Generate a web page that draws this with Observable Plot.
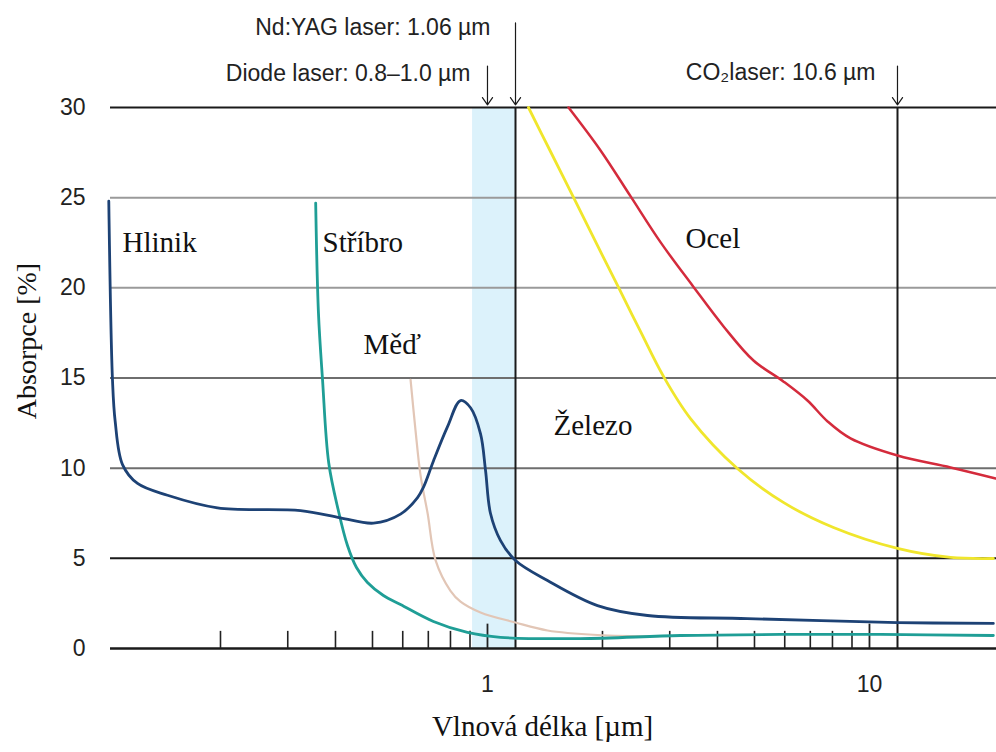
<!DOCTYPE html>
<html>
<head>
<meta charset="utf-8">
<script src="https://cdn.jsdelivr.net/npm/d3@7"></script>
<script src="https://cdn.jsdelivr.net/npm/@observablehq/plot@0.6"></script>
<style>
  html, body { margin: 0; padding: 0; background: #fff; }
  #chart svg { display: block; }
</style>
</head>
<body>
<div id="chart"></div>
<script>
// ---- data ----
const yTicks = [0, 5, 10, 15, 20, 25, 30];
const xLabels = [1, 10];
const minorTicks = [0.2, 0.3, 0.4, 0.5, 0.6, 0.7, 0.8, 0.9, 2, 3, 4, 5, 6, 7, 8, 9];
const majorTicks = [1, 10];

const hlinik = [
  [0.102, 24.8], [0.1043, 14.9], [0.106, 12.6], [0.1108, 10.2], [0.1213, 9.15],
  [0.1453, 8.5], [0.1965, 7.8], [0.324, 7.65], [0.412, 7.25], [0.503, 6.95],
  [0.592, 7.45], [0.656, 8.37], [0.68, 8.95], [0.722, 10.4], [0.786, 12.3],
  [0.85, 13.75], [0.903, 13.35], [0.959, 11.9], [0.988, 9.9], [1.018, 7.5],
  [1.081, 6.0], [1.184, 4.88], [1.436, 3.77], [1.941, 2.38], [2.624, 1.83],
  [4.79, 1.66], [11.84, 1.44], [21.1, 1.39]
];
const stribro = [
  [0.355, 24.7], [0.361, 18.6], [0.37, 14.9], [0.384, 10.3], [0.407, 7.65],
  [0.430, 5.71], [0.454, 4.49], [0.485, 3.66], [0.534, 2.94], [0.592, 2.44],
  [0.722, 1.50], [0.886, 0.89], [1.081, 0.62], [1.75, 0.55], [3.2, 0.72],
  [5.85, 0.78], [10.7, 0.78], [21.1, 0.72]
];
const med = [
  [0.629, 14.9], [0.648, 12.1], [0.668, 9.6], [0.697, 7.5], [0.731, 4.9],
  [0.8, 3.2], [0.85, 2.6], [0.959, 2.0], [1.184, 1.44], [1.436, 1.0],
  [1.941, 0.75], [2.8, 0.68]
];
const zelezo = [
  [1.28, 30.0], [1.462, 27.56], [1.70, 24.79], [1.94, 22.35], [2.19, 20.13],
  [2.515, 17.58], [2.89, 15.08], [3.40, 12.75], [4.51, 9.98], [5.95, 8.10],
  [8.05, 6.71], [11.84, 5.55], [16.3, 5.05], [21.1, 4.99]
];
const ocel = [
  [1.63, 30.0], [1.977, 27.62], [2.37, 25.07], [2.84, 22.52], [3.44, 20.13],
  [4.15, 17.86], [4.97, 15.97], [5.95, 14.81], [6.88, 13.75], [7.77, 12.59],
  [8.92, 11.65], [11.84, 10.70], [16.3, 10.04], [21.4, 9.43]
];

// curve labels: [text, x, y]
const curveLabels = [
  ["Hlinik", 0.1108, 22.48],
  ["Stříbro", 0.370, 22.48],
  ["Měď", 0.4736, 16.87],
  ["Železo", 1.489, 12.33],
  ["Ocel", 3.30, 22.75]
];

// laser annotations (positions as drawn in the picture)
const diodeBand = [0.914, 1.184];
const ndYagX = 1.184;
const co2X = 11.84;
const diodeX = 1.0;
const arrows = [
  {x: ndYagX, from: 34.7},
  {x: diodeX, from: 32.3},
  {x: co2X, from: 32.3}
];
const ndLabel = {text: "Nd:YAG laser: 1.06 µm", x: ndYagX, y: 34.45};
const diodeLabel = {text: "Diode laser: 0.8–1.0 µm", x: diodeX, y: 31.9};
const co2Label = {text: "CO\u2082laser: 10.6 µm", x: co2X, y: 31.95};

const gridColor = v => (v === 0 || v === 5 || v === 30) ? "#1a1a1a" : (v === 25 || v === 20) ? "#9a9a9a" : "#6e6e6e";

const sans = "Liberation Sans, Arial, sans-serif";
const serif = "Liberation Serif, Times New Roman, serif";

const toObj = arr => arr.map(([x, y]) => ({x, y}));
const labelOpts = {x: "x", y: "y", text: "text", textAnchor: "end", fontSize: 23, fontFamily: sans, fill: "#222"};
const curve = "catmull-rom";

const chart = Plot.plot({
  width: 996,
  height: 752,
  marginLeft: 110,
  marginRight: 0,
  marginTop: 107,
  marginBottom: 104,
  x: {type: "log", domain: [0.10306, 21.505], axis: null},
  y: {domain: [0, 30], axis: null},
  marks: [
    Plot.rect([diodeBand], {x1: d => d[0], x2: d => d[1], y1: 0, y2: 30, fill: "#dcf2fb"}),
    Plot.ruleY(yTicks, {y: d => d, stroke: d => gridColor(d), strokeWidth: d => d === 0 ? 2.5 : 2}),
    Plot.ruleX([ndYagX, co2X], {x: d => d, y1: 0, y2: 30, stroke: "#1a1a1a", strokeWidth: 2}),
    Plot.arrow(arrows, {x1: "x", x2: "x", y1: "from", y2: 30.15, stroke: "#1a1a1a", strokeWidth: 1.2, headLength: 11, headAngle: 70}),
    Plot.ruleX(minorTicks, {x: d => d, y1: 0, y2: 0.95, stroke: "#222", strokeWidth: 1.6}),
    Plot.ruleX(majorTicks, {x: d => d, y1: 0, y2: 1.35, stroke: "#222", strokeWidth: 1.8}),
    Plot.line(toObj(med), {x: "x", y: "y", curve, stroke: "#e2c6b6", strokeWidth: 2.2}),
    Plot.line(toObj(stribro), {x: "x", y: "y", curve, stroke: "#1f9e96", strokeWidth: 2.8}),
    Plot.line(toObj(hlinik), {x: "x", y: "y", curve, stroke: "#1d4275", strokeWidth: 2.8}),
    Plot.line(toObj(zelezo), {x: "x", y: "y", curve, stroke: "#f0e62c", strokeWidth: 2.8}),
    Plot.line(toObj(ocel), {x: "x", y: "y", curve, stroke: "#d42b3c", strokeWidth: 2.5}),
    Plot.text(curveLabels, {x: d => d[1], y: d => d[2], text: d => d[0], textAnchor: "start", fontSize: 29, fontFamily: serif, fill: "#111"}),
    Plot.text([ndLabel], {...labelOpts, dx: -25}),
    Plot.text([diodeLabel], {...labelOpts, dx: -17}),
    Plot.text([co2Label], {...labelOpts, dx: -22}),
    Plot.text(yTicks, {x: 0.10306, y: d => d, text: d => String(d), dx: -25, textAnchor: "end", fontSize: 23, fontFamily: sans, fill: "#222"}),
    Plot.text(xLabels, {x: d => d, y: 0, text: d => String(d), dy: 36, fontSize: 23, fontFamily: sans, fill: "#222"}),
    Plot.text(["Vlnová délka [µm]"], {frameAnchor: "bottom", dx: -11, dy: 87, fontSize: 29, fontFamily: serif, fill: "#111"}),
    Plot.text(["Absorpce [%]"], {frameAnchor: "left", textAnchor: "middle", dx: -83, dy: -37, rotate: -90, fontSize: 28, fontFamily: serif, fill: "#111"})
  ]
});

document.getElementById("chart").appendChild(chart);
</script>
</body>
</html>
